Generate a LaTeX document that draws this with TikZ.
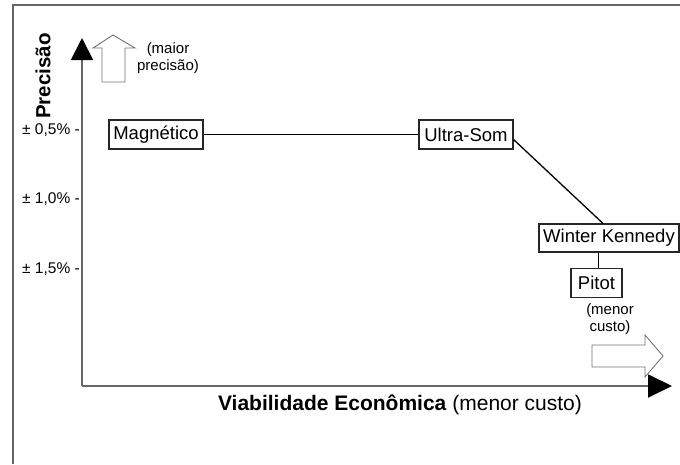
\documentclass[tikz,border=0pt]{standalone}
\usepackage{fontspec}
\setmainfont{Liberation Sans}
\usetikzlibrary{arrows.meta}
\begin{document}
\begin{tikzpicture}[x=1pt,y=-1pt,
  box/.style={draw=black!85,line width=1.1pt,fill=white,inner sep=0pt,minimum height=29pt,font=\fontsize{18.5}{20}\selectfont},
  conn/.style={draw=black,line width=1.3pt},
  axis/.style={draw=black!60,line width=1.8pt},
  hollow/.style={draw=black!55,line width=0.9pt,fill=white},
  tick/.style={anchor=east,inner sep=0pt,font=\fontsize{15.5}{17}\selectfont},
  note/.style={align=center,inner sep=0pt,font=\fontsize{15}{16.5}\selectfont}]
\useasboundingbox (0,0) rectangle (680,464);
% frame
\draw[draw=black!60,line width=1.4pt] (13,464) -- (13,5) -- (680,5);
% axes
\coordinate (o) at (82,386);
\coordinate (ytip) at (82,38);
\coordinate (xtip) at (672,386);
\draw[axis,-{Triangle[length=22pt,width=22pt,color=black]}] (o) -- (ytip);
\draw[axis,-{Triangle[length=24pt,width=23pt,color=black]}] (o) -- (xtip);
% axis labels
\node[rotate=90,inner sep=0pt,font=\bfseries\fontsize{20.5}{22}\selectfont] (py) at (43,76) {Precisão};
\node[inner sep=0pt,font=\fontsize{21}{23}\selectfont] (px) at (400,405) {\textbf{Viabilidade Econômica} (menor custo)};
% ticks
\node[tick] (t1) at (80,130) {± 0,5\% -};
\node[tick] (t2) at (80,199) {± 1,0\% -};
\node[tick] (t3) at (80,269) {± 1,5\% -};
% hollow arrows
\draw[hollow] (102,82) -- (102,48) -- (93,48) -- (113,35) -- (135,48) -- (125,48) -- (125,82) -- cycle;
\node[note] (n1) at (168,58) {(maior\\precisão)};
\draw[hollow] (592,345) -- (645,345) -- (645,335) -- (663,356) -- (645,377) -- (645,367) -- (592,367) -- cycle;
\node[note] (n2) at (610,319) {(menor\\custo)};
% boxes
\node[box,minimum width=94pt] (mag) at (156,134.5) {Magnético};
\node[box,minimum width=94pt] (us) at (466,134.5) {Ultra-Som};
\node[box,minimum width=140pt,minimum height=28pt] (wk) at (609,238) {Winter Kennedy};
\node[box,minimum width=51pt] (pit) at (596.5,283) {Pitot};
% connectors
\draw[conn] (mag.east) -- (us.west);
\draw[conn] ([yshift=-5pt]us.east) -- ([xshift=-6pt]wk.north);
\draw[conn] ([xshift=2pt]pit.north) -- ([xshift=2pt]pit.north |- wk.south);
\end{tikzpicture}
\end{document}
